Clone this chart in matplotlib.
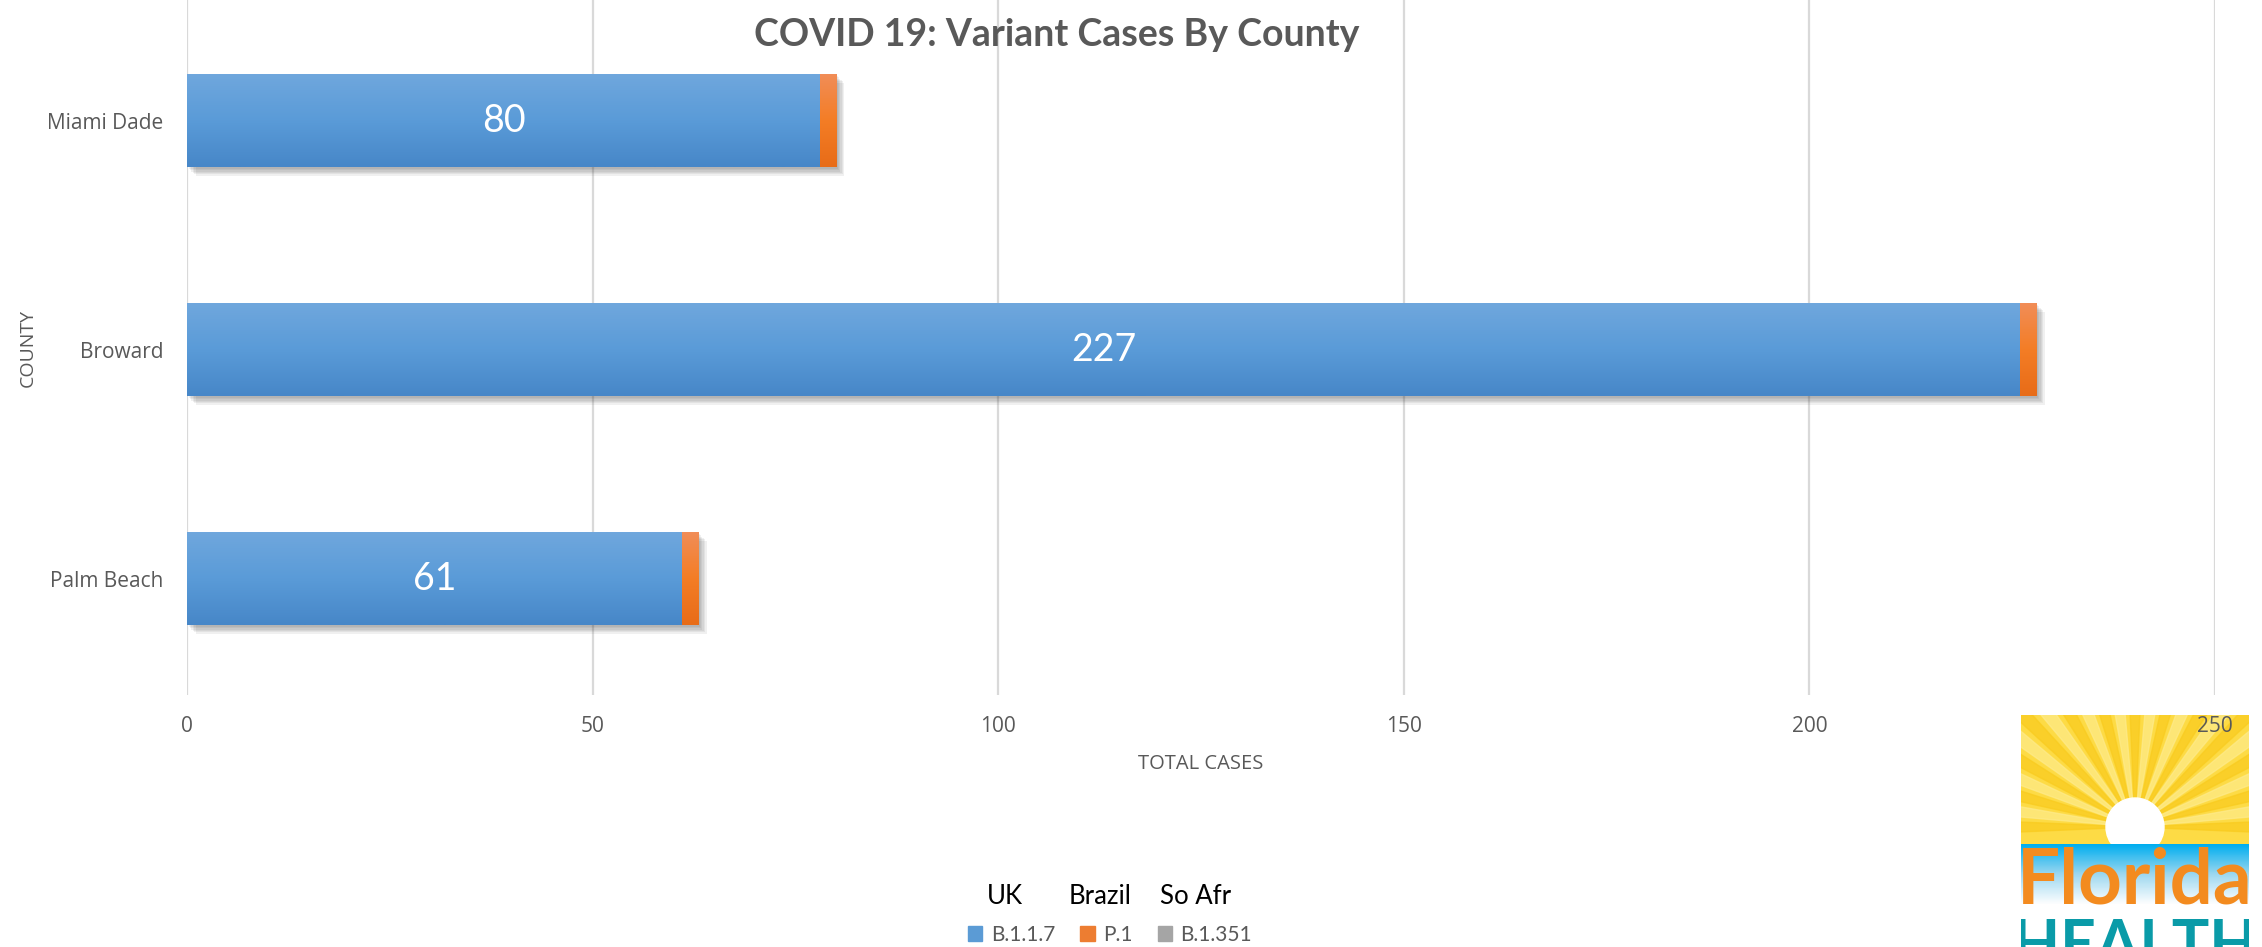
import numpy as np
import matplotlib
matplotlib.use('Agg')
from matplotlib import pyplot as plt
from matplotlib import patheffects as pe
from matplotlib.patches import Rectangle, Circle, Polygon
from matplotlib.colors import LinearSegmentedColormap

counties = ['Miami Dade', 'Broward', 'Palm Beach']
uk = [78, 226, 61]
brazil = [2, 2, 2]
so_afr = [0, 0, 0]
bar_labels = ['80', '227', '61']
variants = ['B.1.1.7', 'P.1', 'B.1.351']
regions = ['UK', 'Brazil', 'So Afr']
xticks = [0, 50, 100, 150, 200, 250]

gray_txt = '#595959'

fig = plt.figure(figsize=(22.62, 9.47), dpi=100)
ax = fig.add_axes([0.0828, 0.2661, 0.8964, 0.7339], zorder=2)
ax.patch.set_alpha(0)

y = np.arange(len(counties))
h = 0.406
# soft shadow, a few stacked offsets
shadow = [pe.SimplePatchShadow(offset=(d, -d), alpha=0.07, shadow_rgbFace='#333333')
          for d in (1, 2, 3, 4, 5, 6)] + [pe.Normal()]

b1 = ax.barh(y, uk, height=h, color='#5B9BD5', zorder=3, path_effects=shadow)
b2 = ax.barh(y, brazil, left=uk, height=h, color='#ED7D31', zorder=3, path_effects=shadow)
b3 = ax.barh(y, so_afr, left=np.add(uk, brazil), height=h, color='#A5A5A5', zorder=3)

# vertical gradients on the bars, like the excel fill
grads = {
    'uk': LinearSegmentedColormap.from_list('b', ['#6FA7DD', '#5A9BD8', '#4787C8']),
    'br': LinearSegmentedColormap.from_list('o', ['#F18D57', '#F47D25', '#E86C18']),
}
g = np.linspace(0, 1, 64).reshape(-1, 1)
for bars, cm in ((b1, grads['uk']), (b2, grads['br'])):
    for r in bars:
        x0, yc = r.get_x(), r.get_y()
        im = ax.imshow(g, cmap=cm, aspect='auto', origin='upper',
                       extent=(x0, x0 + r.get_width(), yc + r.get_height(), yc),
                       zorder=4, interpolation='bilinear')
        im.set_clip_path(r)

for i, r in enumerate(b1):
    ax.text(r.get_x() + r.get_width() / 2, r.get_y() + r.get_height() / 2, bar_labels[i],
            ha='center', va='center', color='white', fontsize=27, family='Lato', zorder=5)

ax.set_xlim(0, 250)
ax.set_ylim(2.507, -0.528)
ax.set_xticks(xticks)
ax.set_yticks(y)
ax.set_yticklabels(counties)
ax.grid(axis='x', color='#D9D9D9', linewidth=1.6, zorder=0)
ax.set_axisbelow(True)
for s in ax.spines.values():
    s.set_visible(False)
ax.tick_params(axis='both', length=0, colors=gray_txt)
ax.tick_params(axis='x', labelsize=15, pad=15)
ax.tick_params(axis='y', labelsize=15, pad=17)
for t in ax.get_xticklabels() + ax.get_yticklabels():
    t.set_family('Open Sans')
ax.set_xlabel('TOTAL CASES', fontsize=14.5, color=gray_txt, family='Open Sans', labelpad=12)
ax.set_ylabel('COUNTY', fontsize=14, color=gray_txt, family='Open Sans')
ax.yaxis.set_label_coords(-0.074, 0.5)

fig.text(0.467, 0.963, 'COVID 19: Variant Cases By County', ha='center', va='center',
         fontsize=27, fontweight='bold', color=gray_txt, family='Lato')

# legend with the region names above it
handles = [Rectangle((0, 0), 1, 1, color=c) for c in ('#5B9BD5', '#ED7D31', '#A5A5A5')]
fig.legend(handles, variants, loc='center', bbox_to_anchor=(0.4907, 0.0127), ncol=3,
           frameon=False, handlelength=0.7, handleheight=0.7,
           handletextpad=0.4, columnspacing=1.2, labelcolor=gray_txt,
           prop={'family': 'Lato', 'size': 15})
for name, xp in zip(regions, [1005, 1100, 1196]):
    fig.text(xp / 2262, 0.0528, name, ha='center', va='center', fontsize=18.5, family='Lato')

# florida health logo, rough
lg = fig.add_axes([2021 / 2262, 0, 228 / 2262, 232 / 947], zorder=1)
lg.axis('off')
lg.add_patch(Rectangle((0, 0), 228, 129, color='#FDDB45', zorder=1))
cx, cy = 114, 112
for k, a in enumerate(np.linspace(-180, 0, 25)):
    a1, a2 = np.radians(a - 2.5), np.radians(a + 2.5)
    col = '#FEEB8C' if k % 2 else '#F9CB1E'
    lg.add_patch(Polygon([(cx, cy), (cx + 400 * np.cos(a1), cy + 400 * np.sin(a1)),
                          (cx + 400 * np.cos(a2), cy + 400 * np.sin(a2))],
                         color=col, alpha=0.7, zorder=2))
lg.add_patch(Circle((cx, cy), 29, color='white', zorder=3))
band = LinearSegmentedColormap.from_list('sea', ['#00AEEF', '#9ED8F0', '#FFFFFF'])
lg.imshow(np.linspace(0, 1, 50).reshape(-1, 1), cmap=band, aspect='auto',
          extent=(0, 228, 190, 129), origin='upper', zorder=4)
lg.add_patch(Rectangle((0, 190), 228, 42, color='white', zorder=4))
lg.text(114, 166, 'Florida', ha='center', va='center', fontsize=55, fontweight='bold',
        color='#F38B1F', family='Lato', zorder=5)
lg.text(114, 203, 'HEALTH', ha='center', va='top', fontsize=45, fontweight='bold',
        color='#0A9BA8', family='Lato', zorder=5, clip_on=True)
lg.set_xlim(0, 228)
lg.set_ylim(232, 0)

fig.savefig('out.png', dpi=100)
